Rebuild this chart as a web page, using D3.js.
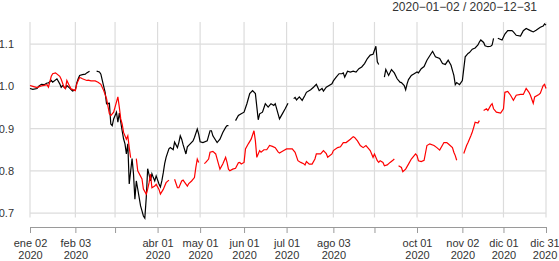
<!DOCTYPE html>
<html>
<head>
<meta charset="utf-8">
<script src="https://cdn.jsdelivr.net/npm/d3@7"></script>
<style>
  body { margin: 0; background: #fff; }
  svg { display: block; font-family: "Liberation Sans", Arial, sans-serif; }
  .grid line { stroke: #dcdcdc; stroke-width: 1.2; }
  .axis text { fill: #333; font-size: 11px; }
</style>
</head>
<body>
<div id="chart"></div>
<script>
// date range label shown top right
const rangeLabel = "2020\u221201\u221202 / 2020\u221212\u221231";

// x ticks (first obs of each month), empty label = tick without text
const tickDates = ["2020-01-02", "2020-02-03", "2020-03-02", "2020-04-01", "2020-05-01", "2020-06-01",
    "2020-07-01", "2020-08-03", "2020-09-01", "2020-10-01", "2020-11-02", "2020-12-01", "2020-12-31"];
const tickLabels = ["ene 02", "feb 03", "", "abr 01", "may 01", "jun 01",
    "jul 01", "ago 03", "", "oct 01", "nov 02", "dic 01", "dic 31"];
const yTicks = [0.7, 0.8, 0.9, 1.0, 1.1];

// black series (null = NA, breaks the line)
const blackSeries = [
    ["2020-01-02", 0.995], ["2020-01-04", 0.993], ["2020-01-07", 0.995], ["2020-01-08", 1.000], ["2020-01-10", 1.005],
    ["2020-01-12", 1.004], ["2020-01-14", 1.008], ["2020-01-15", 1.008], ["2020-01-17", 1.014], ["2020-01-18", 1.010],
    ["2020-01-21", 1.018], ["2020-01-23", 1.006], ["2020-01-24", 0.998], ["2020-01-25", 1.002], ["2020-01-27", 0.995],
    ["2020-01-28", 1.002], ["2020-01-30", 0.996], ["2020-02-01", 0.989], ["2020-02-03", 0.992], ["2020-02-04", 1.008],
    ["2020-02-05", 1.018], ["2020-02-06", 1.026], ["2020-02-08", 1.028], ["2020-02-10", 1.029], ["2020-02-11", 1.032],
    ["2020-02-13", 1.036], ["2020-02-17", null], ["2020-02-18", 1.036], ["2020-02-20", 1.034], ["2020-02-21", 1.029],
    ["2020-02-22", 1.014], ["2020-02-23", 1.000], ["2020-02-24", 0.986], ["2020-02-25", 0.959], ["2020-02-27", 0.960],
    ["2020-02-28", 0.911], ["2020-02-29", 0.907], ["2020-03-01", 0.923], ["2020-03-03", 0.939], ["2020-03-04", 0.915],
    ["2020-03-05", 0.937], ["2020-03-07", 0.895], ["2020-03-08", 0.876], ["2020-03-09", 0.864], ["2020-03-10", 0.840],
    ["2020-03-11", 0.864], ["2020-03-12", 0.769], ["2020-03-14", 0.829], ["2020-03-15", 0.793], ["2020-03-16", 0.733],
    ["2020-03-17", 0.776], ["2020-03-18", 0.757], ["2020-03-20", 0.717], ["2020-03-21", 0.705], ["2020-03-22", 0.693],
    ["2020-03-23", 0.688], ["2020-03-24", 0.736], ["2020-03-25", 0.805], ["2020-03-27", 0.776], ["2020-03-28", 0.793],
    ["2020-03-29", 0.784], ["2020-03-30", 0.776], ["2020-03-31", 0.788], ["2020-04-02", 0.769], ["2020-04-03", 0.762],
    ["2020-04-04", 0.776], ["2020-04-05", 0.795], ["2020-04-06", 0.817], ["2020-04-07", 0.832], ["2020-04-09", 0.852],
    ["2020-04-10", 0.855], ["2020-04-12", 0.850], ["2020-04-13", 0.868], ["2020-04-15", 0.855], ["2020-04-16", 0.867],
    ["2020-04-17", 0.883], ["2020-04-18", 0.875], ["2020-04-19", 0.862], ["2020-04-21", 0.840], ["2020-04-22", 0.857],
    ["2020-04-24", 0.864], ["2020-04-26", 0.871], ["2020-04-27", 0.879], ["2020-04-29", 0.899], ["2020-04-30", 0.887],
    ["2020-05-01", 0.869], ["2020-05-03", 0.867], ["2020-05-06", 0.871], ["2020-05-08", 0.895], ["2020-05-09", 0.895],
    ["2020-05-10", 0.883], ["2020-05-13", 0.867], ["2020-05-15", 0.875], ["2020-05-17", 0.891], ["2020-05-19", 0.903],
    ["2020-05-20", 0.907], ["2020-05-21", 0.907], ["2020-05-25", null], ["2020-05-26", 0.919], ["2020-05-28", 0.931],
    ["2020-05-30", 0.935], ["2020-06-01", 0.939], ["2020-06-03", 0.959], ["2020-06-05", 0.983], ["2020-06-07", 0.990],
    ["2020-06-09", 0.983], ["2020-06-11", 0.921], ["2020-06-12", 0.935], ["2020-06-14", 0.939], ["2020-06-16", 0.959],
    ["2020-06-18", 0.951], ["2020-06-20", 0.959], ["2020-06-22", 0.955], ["2020-06-23", 0.959], ["2020-06-25", 0.935],
    ["2020-06-26", 0.923], ["2020-06-28", 0.935], ["2020-06-30", 0.947], ["2020-07-02", 0.960], ["2020-07-03", null],
    ["2020-07-06", 0.971], ["2020-07-07", 0.974], ["2020-07-08", 0.968], ["2020-07-10", 0.975], ["2020-07-12", 0.967],
    ["2020-07-14", 0.979], ["2020-07-15", 0.986], ["2020-07-18", 0.992], ["2020-07-20", 0.998], ["2020-07-22", 1.005],
    ["2020-07-24", 0.990], ["2020-07-26", 0.995], ["2020-07-27", 0.989], ["2020-07-29", 0.998], ["2020-07-31", 1.002],
    ["2020-08-02", 1.006], ["2020-08-03", 1.013], ["2020-08-05", 1.022], ["2020-08-07", 1.030], ["2020-08-09", 1.030],
    ["2020-08-10", 1.032], ["2020-08-11", 1.022], ["2020-08-13", 1.036], ["2020-08-15", 1.034], ["2020-08-17", 1.036],
    ["2020-08-19", 1.034], ["2020-08-21", 1.042], ["2020-08-23", 1.046], ["2020-08-25", 1.054], ["2020-08-27", 1.066],
    ["2020-08-29", 1.074], ["2020-08-31", 1.076], ["2020-09-02", 1.095], ["2020-09-03", 1.058], ["2020-09-04", 1.052],
    ["2020-09-07", null], ["2020-09-08", 1.022], ["2020-09-09", 1.040], ["2020-09-11", 1.026], ["2020-09-13", 1.040],
    ["2020-09-15", 1.032], ["2020-09-17", 1.018], ["2020-09-19", 1.010], ["2020-09-20", 1.009], ["2020-09-22", 1.002],
    ["2020-09-23", 0.992], ["2020-09-24", 1.006], ["2020-09-25", 1.016], ["2020-09-27", 1.026], ["2020-09-29", 1.030],
    ["2020-10-01", 1.034], ["2020-10-02", 1.032], ["2020-10-04", 1.042], ["2020-10-06", 1.047], ["2020-10-08", 1.062],
    ["2020-10-11", 1.078], ["2020-10-12", 1.083], ["2020-10-14", 1.070], ["2020-10-17", 1.066], ["2020-10-19", 1.054],
    ["2020-10-21", 1.052], ["2020-10-23", 1.062], ["2020-10-25", 1.050], ["2020-10-26", 1.038], ["2020-10-27", 1.026],
    ["2020-10-28", 1.004], ["2020-10-29", 1.009], ["2020-10-31", 1.004], ["2020-11-02", 1.014], ["2020-11-03", 1.042],
    ["2020-11-04", 1.070], ["2020-11-06", 1.078], ["2020-11-07", 1.080], ["2020-11-09", 1.088], ["2020-11-11", 1.091],
    ["2020-11-13", 1.098], ["2020-11-14", 1.105], ["2020-11-15", 1.110], ["2020-11-17", 1.104], ["2020-11-18", 1.096],
    ["2020-11-20", 1.094], ["2020-11-22", 1.095], ["2020-11-23", 1.098], ["2020-11-24", 1.114], ["2020-11-26", null],
    ["2020-11-27", 1.114], ["2020-11-30", 1.110], ["2020-12-02", 1.124], ["2020-12-04", 1.132], ["2020-12-07", 1.132],
    ["2020-12-08", 1.129], ["2020-12-10", 1.121], ["2020-12-13", 1.119], ["2020-12-15", 1.132], ["2020-12-17", 1.137],
    ["2020-12-20", 1.132], ["2020-12-22", 1.129], ["2020-12-24", 1.133], ["2020-12-27", 1.140], ["2020-12-29", 1.143],
    ["2020-12-30", 1.148], ["2020-12-31", 1.145]
];

// red series
const redSeries = [
    ["2020-01-02", 1.002], ["2020-01-04", 1.000], ["2020-01-07", 0.997], ["2020-01-09", 1.000], ["2020-01-11", 1.002],
    ["2020-01-14", 1.004], ["2020-01-15", 0.998], ["2020-01-17", 1.024], ["2020-01-18", 1.030], ["2020-01-20", 1.032],
    ["2020-01-23", 1.024], ["2020-01-24", 1.017], ["2020-01-26", 0.998], ["2020-01-27", 0.995], ["2020-01-28", 1.014],
    ["2020-01-30", 1.000], ["2020-01-31", 0.994], ["2020-02-03", 0.990], ["2020-02-04", 1.006], ["2020-02-06", 1.021],
    ["2020-02-07", 1.020], ["2020-02-08", 1.018], ["2020-02-11", 1.014], ["2020-02-12", 1.015], ["2020-02-14", 1.013],
    ["2020-02-17", 1.013], ["2020-02-19", 1.010], ["2020-02-21", 1.005], ["2020-02-23", 0.990], ["2020-02-25", 0.971],
    ["2020-02-27", 0.935], ["2020-02-28", 0.931], ["2020-03-01", 0.939], ["2020-03-02", 0.951], ["2020-03-04", 0.975],
    ["2020-03-05", 0.951], ["2020-03-06", 0.923], ["2020-03-07", 0.911], ["2020-03-08", 0.891], ["2020-03-10", 0.875],
    ["2020-03-11", 0.883], ["2020-03-12", 0.855], ["2020-03-13", 0.831], ["2020-03-15", null], ["2020-03-17", 0.829],
    ["2020-03-18", 0.800], ["2020-03-21", 0.781], ["2020-03-22", 0.757], ["2020-03-24", 0.745], ["2020-03-25", 0.757],
    ["2020-03-26", 0.772], ["2020-03-27", 0.792], ["2020-03-28", 0.760], ["2020-03-30", 0.764], ["2020-03-31", 0.768],
    ["2020-04-02", 0.756], ["2020-04-03", 0.745], ["2020-04-05", 0.756], ["2020-04-07", 0.772], ["2020-04-09", 0.778],
    ["2020-04-11", null], ["2020-04-13", 0.780], ["2020-04-15", 0.760], ["2020-04-16", 0.760], ["2020-04-18", 0.776],
    ["2020-04-19", 0.778], ["2020-04-22", 0.764], ["2020-04-23", 0.770], ["2020-04-25", 0.776], ["2020-04-27", 0.784],
    ["2020-04-28", 0.808], ["2020-04-29", 0.828], ["2020-04-30", 0.820], ["2020-05-02", null], ["2020-05-04", 0.817],
    ["2020-05-05", 0.820], ["2020-05-07", 0.828], ["2020-05-08", 0.844], ["2020-05-10", 0.846], ["2020-05-12", 0.840],
    ["2020-05-14", 0.816], ["2020-05-15", 0.804], ["2020-05-17", 0.816], ["2020-05-19", 0.832], ["2020-05-20", 0.820],
    ["2020-05-21", 0.804], ["2020-05-22", 0.800], ["2020-05-24", 0.804], ["2020-05-26", 0.806], ["2020-05-28", 0.819],
    ["2020-05-29", 0.820], ["2020-05-30", 0.816], ["2020-06-01", 0.820], ["2020-06-02", 0.852], ["2020-06-04", 0.864],
    ["2020-06-06", 0.875], ["2020-06-08", 0.895], ["2020-06-09", 0.871], ["2020-06-10", 0.832], ["2020-06-12", 0.848],
    ["2020-06-13", 0.844], ["2020-06-15", 0.850], ["2020-06-17", 0.850], ["2020-06-19", 0.860], ["2020-06-21", 0.858],
    ["2020-06-23", 0.855], ["2020-06-25", 0.845], ["2020-06-26", 0.842], ["2020-06-29", 0.848], ["2020-07-01", 0.852],
    ["2020-07-05", 0.852], ["2020-07-07", 0.844], ["2020-07-09", 0.824], ["2020-07-11", 0.820], ["2020-07-13", 0.817],
    ["2020-07-14", 0.814], ["2020-07-15", 0.822], ["2020-07-17", 0.816], ["2020-07-19", 0.816], ["2020-07-21", 0.828],
    ["2020-07-22", 0.840], ["2020-07-25", 0.840], ["2020-07-27", 0.848], ["2020-07-29", 0.841], ["2020-07-30", 0.832],
    ["2020-08-02", 0.840], ["2020-08-03", 0.848], ["2020-08-06", 0.855], ["2020-08-08", 0.857], ["2020-08-10", 0.867],
    ["2020-08-12", 0.867], ["2020-08-15", 0.875], ["2020-08-17", 0.881], ["2020-08-18", 0.879], ["2020-08-20", 0.871],
    ["2020-08-22", 0.860], ["2020-08-24", 0.855], ["2020-08-26", 0.860], ["2020-08-28", 0.852], ["2020-08-29", 0.848],
    ["2020-08-31", 0.832], ["2020-09-01", 0.840], ["2020-09-03", 0.824], ["2020-09-04", 0.820], ["2020-09-05", 0.824],
    ["2020-09-07", 0.820], ["2020-09-08", 0.812], ["2020-09-10", 0.814], ["2020-09-12", 0.820], ["2020-09-14", 0.825],
    ["2020-09-15", 0.828], ["2020-09-16", null], ["2020-09-18", 0.812], ["2020-09-20", 0.808], ["2020-09-21", 0.798],
    ["2020-09-23", 0.804], ["2020-09-25", 0.816], ["2020-09-27", 0.828], ["2020-09-30", 0.840], ["2020-10-01", 0.836],
    ["2020-10-02", 0.824], ["2020-10-04", 0.822], ["2020-10-06", 0.825], ["2020-10-08", 0.860], ["2020-10-10", 0.864],
    ["2020-10-13", 0.860], ["2020-10-15", 0.855], ["2020-10-17", 0.849], ["2020-10-20", 0.867], ["2020-10-22", 0.867],
    ["2020-10-23", 0.864], ["2020-10-26", 0.855], ["2020-10-27", 0.844], ["2020-10-28", 0.836], ["2020-10-29", 0.825],
    ["2020-10-31", null], ["2020-11-03", 0.841], ["2020-11-05", 0.860], ["2020-11-06", 0.867], ["2020-11-08", 0.883],
    ["2020-11-09", 0.892], ["2020-11-10", 0.903], ["2020-11-11", 0.915], ["2020-11-13", 0.913], ["2020-11-14", 0.919],
    ["2020-11-15", null], ["2020-11-17", 0.943], ["2020-11-19", 0.947], ["2020-11-20", 0.943], ["2020-11-22", 0.955],
    ["2020-11-23", 0.959], ["2020-11-24", 0.947], ["2020-11-26", 0.939], ["2020-11-29", 0.937], ["2020-12-01", 0.947],
    ["2020-12-02", 0.986], ["2020-12-04", 0.988], ["2020-12-06", 0.979], ["2020-12-08", 0.967], ["2020-12-10", 0.979],
    ["2020-12-13", 0.981], ["2020-12-15", 0.981], ["2020-12-17", 0.995], ["2020-12-19", 0.986], ["2020-12-20", 0.979],
    ["2020-12-22", 0.960], ["2020-12-23", 0.975], ["2020-12-26", 0.981], ["2020-12-27", 0.984], ["2020-12-29", 1.002],
    ["2020-12-30", 1.005], ["2020-12-31", 0.995]
];

const width = 559, height = 261;
const margin = {top: 22, right: 13, bottom: 43.5, left: 30};
const parseDate = d3.utcParse("%Y-%m-%d");

const svg = d3.select("#chart").append("svg")
    .attr("width", width)
    .attr("height", height);

const x = d3.scaleUtc()
    .domain([parseDate("2020-01-02"), parseDate("2020-12-31")])
    .range([margin.left, width - margin.right]);

const y = d3.scaleLinear()
    .domain([0.6895, 1.1525])
    .range([height - margin.bottom, margin.top]);

// grid
const grid = svg.append("g").attr("class", "grid");
grid.selectAll(".vline")
    .data(tickDates)
    .enter().append("line")
    .attr("class", "vline")
    .attr("x1", d => x(parseDate(d))).attr("x2", d => x(parseDate(d)))
    .attr("y1", margin.top).attr("y2", height - margin.bottom);
grid.selectAll(".hline")
    .data(yTicks)
    .enter().append("line")
    .attr("class", "hline")
    .attr("x1", margin.left).attr("x2", width - margin.right)
    .attr("y1", d => y(d)).attr("y2", d => y(d));

// y axis labels
const yAxis = d3.axisLeft(y).tickValues(yTicks).tickSize(0).tickPadding(16).tickFormat(d3.format(".1f"));
svg.append("g")
    .attr("class", "axis y-axis")
    .attr("transform", "translate(" + margin.left + ",0)")
    .call(yAxis)
    .call(g => g.select(".domain").remove());

// x axis
const xAxis = d3.axisBottom(x)
    .tickValues(tickDates.map(parseDate))
    .tickSize(6)
    .tickSizeOuter(0)
    .tickFormat("");
const xg = svg.append("g")
    .attr("class", "axis x-axis")
    .attr("transform", "translate(0," + (height - margin.bottom + 9.5) + ")")
    .call(xAxis);
xg.select(".domain").attr("stroke", "#9a9a9a");
xg.selectAll(".tick line").attr("stroke", "#9a9a9a");
xg.selectAll(".tick").each(function(d, i) {
    if (!tickLabels[i]) return;
    const t = d3.select(this).select("text").text(null).attr("y", 0).attr("dy", null);
    t.append("tspan").attr("x", 0).attr("y", 19.5).text(tickLabels[i]);
    t.append("tspan").attr("x", 0).attr("y", 32).text("2020");
    // keep the last label inside the window
    const w = this.querySelector("text").getComputedTextLength() / 2;
    const over = x(d) + w / 2 - (width - 1);
    if (over > 0) t.attr("transform", "translate(" + (-over) + ",0)");
});

// series
const line = d3.line()
    .defined(d => d[1] != null)
    .x(d => x(parseDate(d[0])))
    .y(d => y(d[1]));

svg.append("path")
    .datum(blackSeries)
    .attr("fill", "none")
    .attr("stroke", "#000")
    .attr("stroke-width", 1.2)
    .attr("d", line);

svg.append("path")
    .datum(redSeries)
    .attr("fill", "none")
    .attr("stroke", "#ff0000")
    .attr("stroke-width", 1.2)
    .attr("d", line);

// title (date range)
svg.append("text")
    .attr("x", 537)
    .attr("y", 10.5)
    .attr("text-anchor", "end")
    .attr("fill", "#333")
    .style("font-size", "12px")
    .text(rangeLabel);
</script>
</body>
</html>
